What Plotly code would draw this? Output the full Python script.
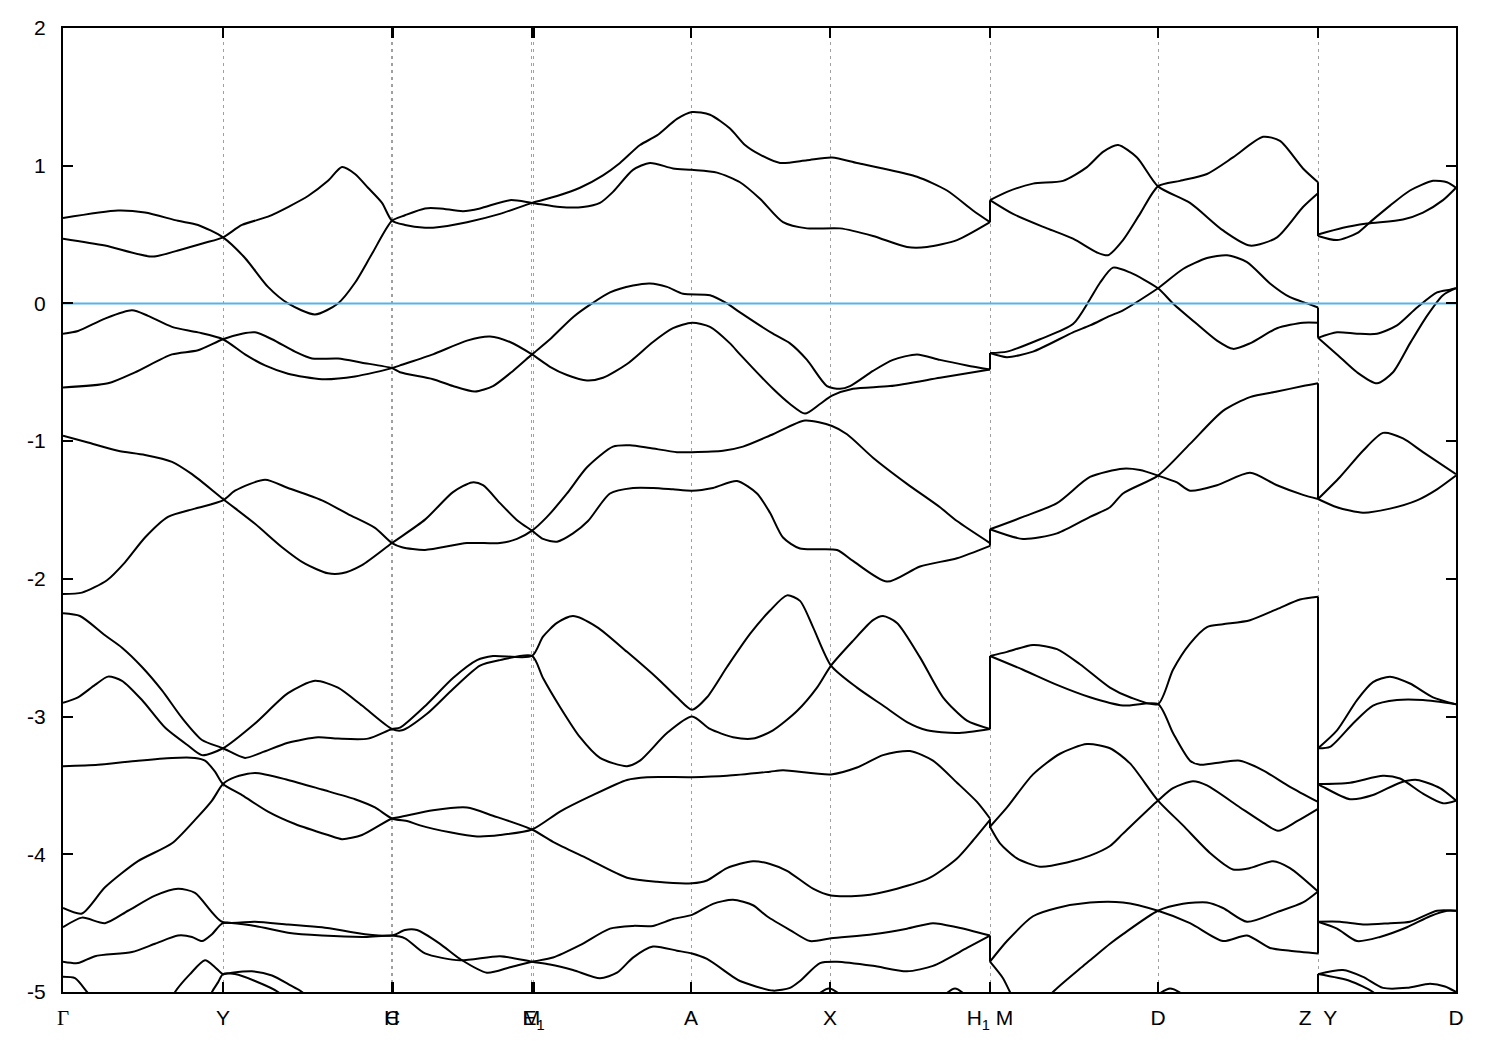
import plotly.graph_objects as go

# ---------------- k-path (arbitrary path-length units) ----------------
tick_k = [0, 160, 328.5, 329.5, 468.5, 470.5, 628, 767, 927, 1095, 1255, 1393]
tick_labels = ["<span style='font-family:Liberation Serif'>Γ</span>", "Y", "H", "C", "M",
               "E<sub>1</sub>", "A", "X", "H<sub>1</sub> M", "D", "Z\u00a0\u00a0Y", "D"]
y_ticks = [-5, -4, -3, -2, -1, 0, 1, 2]

# ---------------- band strands: (k, E [eV]) ----------------
# segment group 1 : Gamma -> H1
g1_a = [(0, 0.62), (55, 0.675), (82, 0.66), (115, 0.60), (135, 0.57), (160, 0.48), (182, 0.33), (205, 0.12),
        (225, 0.0), (252, -0.08), (275, 0.0), (292, 0.15), (309, 0.36), (329, 0.60), (342, 0.64), (362, 0.69),
        (377, 0.69), (400, 0.67), (417, 0.69), (447, 0.75), (469, 0.73), (497, 0.70), (520, 0.70), (537, 0.73),
        (550, 0.81), (570, 0.97), (587, 1.02), (610, 0.98), (629, 0.97), (654, 0.95), (677, 0.88), (697, 0.76),
        (720, 0.59), (744, 0.545), (777, 0.545), (810, 0.49), (844, 0.41), (864, 0.41), (894, 0.46), (927, 0.59)]
g1_b = [(0, 0.47), (42, 0.42), (89, 0.34), (115, 0.385), (142, 0.44), (160, 0.48), (179, 0.57), (205, 0.63),
        (225, 0.70), (245, 0.78), (265, 0.89), (279, 0.99), (292, 0.94), (305, 0.84), (319, 0.73), (329, 0.60),
        (342, 0.57), (362, 0.55), (370, 0.55), (404, 0.59), (437, 0.65), (469, 0.73), (494, 0.78), (517, 0.84),
        (540, 0.93), (557, 1.02), (577, 1.15), (594, 1.22), (614, 1.34), (629, 1.39), (647, 1.37), (667, 1.27),
        (682, 1.15), (697, 1.08), (717, 1.02), (744, 1.04), (769, 1.06), (794, 1.02), (820, 0.98), (854, 0.92),
        (884, 0.82), (910, 0.675), (927, 0.59)]
g1_c = [(0, -0.22), (15, -0.20), (42, -0.11), (69, -0.05), (85, -0.09), (109, -0.17), (135, -0.21), (160, -0.26),
        (182, -0.37), (202, -0.45), (225, -0.51), (259, -0.55), (292, -0.53), (329, -0.47), (337, -0.45),
        (370, -0.37), (404, -0.27), (427, -0.24), (447, -0.28), (469, -0.37), (487, -0.46), (504, -0.52),
        (524, -0.56), (540, -0.54), (564, -0.44), (590, -0.28), (610, -0.18), (629, -0.14), (647, -0.17),
        (667, -0.29), (677, -0.37), (710, -0.62), (727, -0.73), (742, -0.80), (757, -0.73), (769, -0.67),
        (790, -0.62), (827, -0.60), (877, -0.54), (927, -0.48)]
g1_d = [(0, -0.61), (45, -0.58), (72, -0.50), (109, -0.37), (135, -0.34), (160, -0.26), (179, -0.22),
        (192, -0.21), (209, -0.26), (232, -0.35), (249, -0.40), (275, -0.40), (299, -0.43), (329, -0.47),
        (337, -0.50), (370, -0.55), (390, -0.60), (412, -0.64), (430, -0.60), (450, -0.49), (469, -0.37),
        (487, -0.26), (510, -0.10), (529, 0.0), (547, 0.08), (570, 0.13), (587, 0.145), (604, 0.12), (620, 0.07),
        (647, 0.06), (664, 0.0), (677, -0.065), (710, -0.22), (727, -0.29), (744, -0.41), (764, -0.60),
        (777, -0.62), (787, -0.60), (810, -0.49), (830, -0.41), (854, -0.37), (877, -0.41), (904, -0.45),
        (927, -0.48)]
g1_e = [(0, -0.96), (25, -1.01), (55, -1.07), (82, -1.10), (109, -1.15), (129, -1.24), (160, -1.42),
        (192, -1.60), (219, -1.77), (242, -1.89), (265, -1.96), (279, -1.96), (299, -1.90), (329, -1.74),
        (362, -1.57), (390, -1.37), (409, -1.30), (420, -1.32), (437, -1.45), (455, -1.58), (469, -1.65),
        (480, -1.71), (494, -1.73), (510, -1.67), (525, -1.58), (547, -1.38), (570, -1.34), (590, -1.34),
        (610, -1.35), (629, -1.36), (650, -1.34), (674, -1.29), (694, -1.38), (707, -1.52), (720, -1.70),
        (737, -1.78), (774, -1.79), (790, -1.87), (824, -2.02), (857, -1.91), (894, -1.85), (927, -1.76)]
g1_f = [(0, -2.11), (19, -2.10), (44, -2.01), (62, -1.88), (82, -1.70), (105, -1.55), (132, -1.49),
        (160, -1.43), (172, -1.36), (202, -1.28), (225, -1.34), (259, -1.43), (285, -1.53), (312, -1.63),
        (329, -1.74), (339, -1.77), (362, -1.79), (404, -1.74), (437, -1.74), (454, -1.71), (469, -1.65),
        (484, -1.55), (504, -1.38), (524, -1.19), (550, -1.04), (567, -1.03), (587, -1.05), (614, -1.08),
        (629, -1.08), (660, -1.07), (680, -1.04), (710, -0.95), (742, -0.85), (769, -0.89), (784, -0.95),
        (810, -1.12), (844, -1.31), (877, -1.48), (894, -1.58), (927, -1.74)]
g1_g = [(0, -2.25), (17, -2.27), (42, -2.41), (59, -2.50), (79, -2.64), (99, -2.81), (119, -3.01),
        (139, -3.17), (160, -3.23), (182, -3.30), (199, -3.26), (225, -3.19), (255, -3.15), (275, -3.16),
        (305, -3.16), (329, -3.09), (337, -3.08), (364, -2.91), (390, -2.72), (414, -2.59), (430, -2.56),
        (469, -2.56), (480, -2.42), (494, -2.32), (510, -2.27), (534, -2.35), (564, -2.53), (594, -2.72),
        (614, -2.86), (629, -2.95), (644, -2.86), (664, -2.64), (687, -2.40), (707, -2.23), (724, -2.12),
        (737, -2.16), (750, -2.35), (768, -2.63), (794, -2.79), (820, -2.92), (844, -3.04), (864, -3.10),
        (894, -3.12), (927, -3.09)]
g1_h = [(0, -2.90), (15, -2.86), (32, -2.77), (45, -2.71), (59, -2.74), (79, -2.88), (102, -3.08),
        (125, -3.21), (139, -3.28), (160, -3.23), (192, -3.05), (225, -2.83), (252, -2.74), (275, -2.79),
        (299, -2.92), (329, -3.09), (339, -3.10), (364, -2.98), (390, -2.80), (417, -2.63), (437, -2.59),
        (469, -2.56), (480, -2.72), (497, -2.93), (517, -3.15), (537, -3.30), (564, -3.36), (577, -3.32),
        (604, -3.12), (629, -3.00), (647, -3.09), (670, -3.15), (690, -3.16), (710, -3.10), (734, -2.96),
        (754, -2.79), (768, -2.63), (790, -2.45), (810, -2.30), (820, -2.27), (834, -2.32), (857, -2.57),
        (880, -2.86), (904, -3.03), (927, -3.09)]
g1_i = [(0, -3.36), (35, -3.35), (75, -3.32), (109, -3.30), (132, -3.30), (142, -3.32), (152, -3.40),
        (160, -3.49), (179, -3.57), (205, -3.69), (232, -3.78), (265, -3.86), (279, -3.89), (299, -3.86),
        (329, -3.74), (337, -3.73), (370, -3.68), (404, -3.66), (430, -3.72), (469, -3.82), (490, -3.91),
        (524, -4.03), (564, -4.17), (594, -4.20), (629, -4.21), (644, -4.19), (664, -4.10), (690, -4.05),
        (707, -4.07), (724, -4.12), (750, -4.25), (768, -4.30), (800, -4.30), (834, -4.25), (867, -4.17),
        (894, -4.03), (910, -3.90), (927, -3.75)]
g1_j = [(0, -4.39), (19, -4.43), (42, -4.24), (75, -4.05), (109, -3.92), (132, -3.75), (149, -3.61),
        (160, -3.49), (172, -3.44), (192, -3.41), (225, -3.46), (259, -3.53), (292, -3.60), (312, -3.66),
        (329, -3.74), (345, -3.76), (357, -3.79), (387, -3.84), (414, -3.87), (437, -3.86), (469, -3.82),
        (497, -3.69), (527, -3.58), (564, -3.46), (584, -3.44), (629, -3.44), (664, -3.43), (707, -3.40),
        (720, -3.39), (768, -3.42), (794, -3.37), (820, -3.28), (847, -3.25), (870, -3.32), (894, -3.48),
        (914, -3.62), (927, -3.74)]
g1_k = [(0, -4.53), (19, -4.46), (42, -4.50), (65, -4.41), (92, -4.30), (115, -4.25), (132, -4.28),
        (159, -4.49), (192, -4.49), (225, -4.51), (259, -4.53), (302, -4.58), (329, -4.59), (342, -4.55),
        (354, -4.55), (377, -4.65), (397, -4.76), (424, -4.86), (447, -4.82), (469, -4.78), (490, -4.75),
        (517, -4.66), (547, -4.54), (570, -4.52), (590, -4.52), (610, -4.47), (629, -4.44), (650, -4.36),
        (670, -4.33), (690, -4.37), (704, -4.45), (727, -4.55), (747, -4.63), (768, -4.61), (810, -4.58),
        (844, -4.54), (870, -4.50), (894, -4.53), (927, -4.59)]
g1_l = [(0, -4.78), (15, -4.79), (32, -4.74), (69, -4.71), (92, -4.65), (115, -4.59), (129, -4.60),
        (139, -4.63), (149, -4.58), (160, -4.50), (192, -4.52), (225, -4.57), (259, -4.59), (302, -4.60),
        (329, -4.59), (342, -4.61), (362, -4.72), (397, -4.77), (437, -4.74), (469, -4.78), (487, -4.80),
        (510, -4.84), (537, -4.90), (554, -4.86), (570, -4.75), (590, -4.67), (614, -4.70), (629, -4.72),
        (644, -4.76), (670, -4.89), (677, -4.92), (710, -4.99), (727, -4.97), (737, -4.92), (757, -4.79),
        (774, -4.78), (810, -4.81), (844, -4.85), (870, -4.81), (904, -4.68), (927, -4.59)]
g1_m = [(0, -4.89), (12, -4.90), (24, -5.0), (37, -5.12)]
g1_n = [(105, -5.1), (112, -5.0), (127, -4.87), (142, -4.77), (152, -4.82), (160, -4.87), (169, -4.86),
        (189, -4.85), (209, -4.88), (227, -4.95), (239, -5.0), (249, -5.08)]
g1_o = [(144, -5.1), (149, -5.0), (155, -4.93), (160, -4.87), (172, -4.87), (192, -4.92), (215, -5.0),
        (225, -5.08)]
g1_p = [(749, -5.05), (766, -4.975), (783, -5.05)]
g1_q = [(877, -5.05), (892, -4.975), (907, -5.05)]

# segment group 2 : M -> Z
g2_a = [(927, 0.75), (944, 0.81), (970, 0.87), (1000, 0.89), (1024, 0.99), (1040, 1.10), (1055, 1.15),
        (1074, 1.06), (1095, 0.85), (1127, 0.73), (1160, 0.53), (1187, 0.42), (1214, 0.48), (1240, 0.70),
        (1255, 0.80)]
g2_b = [(927, 0.75), (950, 0.65), (984, 0.545), (1010, 0.47), (1034, 0.37), (1045, 0.35), (1060, 0.46),
        (1077, 0.65), (1095, 0.85), (1117, 0.89), (1144, 0.94), (1170, 1.06), (1200, 1.21), (1217, 1.18),
        (1240, 0.98), (1255, 0.88)]
g2_c = [(927, -0.36), (944, -0.35), (977, -0.26), (1010, -0.15), (1027, 0.03), (1037, 0.15), (1050, 0.26),
        (1067, 0.225), (1095, 0.11), (1110, 0.0), (1134, -0.15), (1154, -0.27), (1170, -0.33), (1187, -0.29),
        (1214, -0.18), (1240, -0.14), (1255, -0.14)]
g2_d = [(927, -0.36), (944, -0.39), (970, -0.35), (1010, -0.21), (1027, -0.16), (1047, -0.09), (1060, -0.05),
        (1095, 0.11), (1120, 0.25), (1144, 0.33), (1164, 0.35), (1184, 0.30), (1207, 0.145), (1227, 0.045),
        (1244, 0.0), (1255, -0.03)]
g2_e = [(927, -1.64), (960, -1.55), (994, -1.45), (1027, -1.26), (1060, -1.20), (1077, -1.21), (1095, -1.25),
        (1114, -1.30), (1127, -1.36), (1154, -1.32), (1187, -1.23), (1214, -1.32), (1240, -1.39), (1255, -1.42)]
g2_f = [(927, -1.64), (960, -1.71), (994, -1.67), (1027, -1.55), (1047, -1.48), (1060, -1.38), (1095, -1.25),
        (1127, -1.02), (1160, -0.78), (1187, -0.68), (1214, -0.64), (1240, -0.60), (1255, -0.58)]
g2_g = [(927, -2.56), (944, -2.53), (970, -2.48), (994, -2.51), (1017, -2.62), (1047, -2.79), (1067, -2.86),
        (1095, -2.91), (1110, -2.66), (1127, -2.47), (1144, -2.35), (1160, -2.33), (1187, -2.30), (1214, -2.22),
        (1237, -2.15), (1255, -2.13)]
g2_h = [(927, -2.56), (960, -2.66), (994, -2.77), (1027, -2.86), (1060, -2.92), (1095, -2.91), (1110, -3.12),
        (1127, -3.32), (1137, -3.35), (1160, -3.33), (1177, -3.32), (1200, -3.39), (1227, -3.51), (1255, -3.62)]
g2_i = [(927, -3.80), (944, -3.66), (970, -3.42), (997, -3.27), (1024, -3.20), (1047, -3.23), (1067, -3.34),
        (1095, -3.61), (1120, -3.79), (1147, -3.99), (1170, -4.11), (1187, -4.10), (1210, -4.05), (1227, -4.10),
        (1255, -4.27)]
g2_j = [(927, -3.80), (937, -3.92), (954, -4.03), (977, -4.09), (1004, -4.06), (1027, -4.01), (1047, -3.94),
        (1060, -3.85), (1095, -3.61), (1110, -3.52), (1130, -3.47), (1144, -3.50), (1177, -3.66), (1200, -3.77),
        (1215, -3.83), (1234, -3.76), (1255, -3.67)]
g2_k = [(927, -4.78), (944, -4.63), (970, -4.45), (994, -4.39), (1027, -4.35), (1060, -4.35), (1095, -4.41),
        (1127, -4.50), (1160, -4.63), (1184, -4.59), (1207, -4.68), (1227, -4.70), (1255, -4.72)]
g2_l = [(927, -4.78), (940, -4.90), (947, -5.0), (957, -5.12)]
g2_m = [(977, -5.12), (990, -5.0), (1017, -4.83), (1027, -4.77), (1047, -4.65), (1060, -4.58), (1095, -4.41),
        (1120, -4.36), (1144, -4.35), (1160, -4.39), (1184, -4.49), (1214, -4.42), (1240, -4.35), (1255, -4.27)]
g2_n = [(1089, -5.05), (1107, -4.975), (1127, -5.05)]

# segment group 3 : Y -> D
g3_a = [(1255, 0.49), (1274, 0.46), (1294, 0.51), (1307, 0.59), (1327, 0.71), (1347, 0.82), (1370, 0.89),
        (1384, 0.88), (1393, 0.84)]
g3_b = [(1255, 0.50), (1280, 0.55), (1304, 0.58), (1340, 0.61), (1360, 0.66), (1380, 0.75), (1393, 0.84)]
g3_c = [(1255, -0.25), (1274, -0.21), (1294, -0.22), (1314, -0.22), (1334, -0.16), (1354, -0.03), (1374, 0.08),
        (1387, 0.10), (1393, 0.11)]
g3_d = [(1255, -0.25), (1274, -0.37), (1294, -0.50), (1314, -0.58), (1330, -0.50), (1347, -0.29), (1364, -0.09),
        (1380, 0.06), (1393, 0.11)]
g3_e = [(1255, -1.42), (1277, -1.26), (1300, -1.07), (1320, -0.94), (1340, -0.98), (1360, -1.08), (1393, -1.24)]
g3_f = [(1255, -1.42), (1274, -1.48), (1300, -1.52), (1327, -1.49), (1354, -1.43), (1374, -1.35), (1393, -1.25)]
g3_g = [(1255, -3.23), (1274, -3.10), (1294, -2.88), (1310, -2.75), (1327, -2.71), (1347, -2.76), (1370, -2.86),
        (1393, -2.91)]
g3_h = [(1255, -3.23), (1267, -3.22), (1290, -3.05), (1310, -2.92), (1334, -2.88), (1360, -2.88), (1393, -2.91)]
g3_i = [(1255, -3.49), (1287, -3.48), (1320, -3.43), (1337, -3.45), (1360, -3.56), (1380, -3.63), (1393, -3.61)]
g3_j = [(1255, -3.49), (1260, -3.51), (1287, -3.60), (1310, -3.57), (1337, -3.48), (1354, -3.46), (1377, -3.52),
        (1393, -3.61)]
g3_k = [(1255, -4.49), (1277, -4.49), (1300, -4.51), (1327, -4.50), (1347, -4.49), (1374, -4.41), (1393, -4.41)]
g3_l = [(1255, -4.49), (1274, -4.54), (1294, -4.63), (1317, -4.60), (1344, -4.53), (1367, -4.45), (1384, -4.41),
        (1393, -4.41)]
g3_m = [(1255, -4.87), (1280, -4.84), (1300, -4.89), (1320, -4.97), (1344, -4.97), (1367, -4.94), (1382, -4.96),
        (1393, -5.0)]
g3_n = [(1255, -4.87), (1287, -4.92), (1310, -5.0), (1322, -5.08)]

strands = [g1_a, g1_b, g1_c, g1_d, g1_e, g1_f, g1_g, g1_h, g1_i, g1_j, g1_k, g1_l, g1_m, g1_n, g1_o, g1_p, g1_q,
           g2_a, g2_b, g2_c, g2_d, g2_e, g2_f, g2_g, g2_h, g2_i, g2_j, g2_k, g2_l, g2_m, g2_n,
           g3_a, g3_b, g3_c, g3_d, g3_e, g3_f, g3_g, g3_h, g3_i, g3_j, g3_k, g3_l, g3_m, g3_n]

# vertical band jumps at the path discontinuities (H1|M and Z|Y)
jump_h1m_k = 927
jump_h1m_top = [0.75, -0.36, -1.64, -2.56, -3.74, -4.59]
jump_h1m_bot = [0.59, -0.48, -1.76, -3.09, -3.81, -4.78]
jump_zy_k = 1255
jump_zy_top = [0.88, -0.03, -0.58, -2.13, -4.87]
jump_zy_bot = [0.49, -0.25, -1.42, -4.72, -5.2]

fermi_level = 0.0

FONT = "Liberation Sans, Arial, Helvetica, sans-serif"
fig = go.Figure()

for s in strands:
    ks = [p[0] for p in s]
    es = [p[1] for p in s]
    fig.add_trace(go.Scatter(x=ks, y=es, mode="lines", hoverinfo="skip",
                             line=dict(color="black", width=2, shape="spline", smoothing=0.7)))

for kj, tops, bots in [(jump_h1m_k, jump_h1m_top, jump_h1m_bot), (jump_zy_k, jump_zy_top, jump_zy_bot)]:
    xs, ys = [], []
    for t, b in zip(tops, bots):
        xs += [kj, kj, None]
        ys += [t, b, None]
    fig.add_trace(go.Scatter(x=xs, y=ys, mode="lines", hoverinfo="skip",
                             line=dict(color="black", width=2)))

fig.add_trace(go.Scatter(x=[tick_k[0], tick_k[-1]], y=[fermi_level, fermi_level], mode="lines",
                         hoverinfo="skip", line=dict(color="#56B4E9", width=2)))

# the page body has an 8px default margin, so the figure is sized to fit the 1500x1050 window
fig.update_layout(
    width=1492, height=1042,
    margin=dict(l=55, r=44, t=20, b=58, autoexpand=False),
    paper_bgcolor="white", plot_bgcolor="white",
    showlegend=False,
    font=dict(family=FONT, size=21, color="black"),
)
fig.update_xaxes(
    range=[tick_k[0], tick_k[-1]], tickmode="array", tickvals=tick_k, ticktext=tick_labels,
    tickangle=0, automargin=False,
    ticks="inside", ticklen=10, tickwidth=1.5, tickcolor="black",
    showline=True, linecolor="black", linewidth=2, mirror="ticks",
    showgrid=True, gridcolor="#a0a0a0", gridwidth=1, griddash="3px,4px",
    zeroline=False, ticklabelstandoff=6, tickfont=dict(family=FONT, size=21, color="black"),
)
fig.update_yaxes(
    range=[-5, 2], tickmode="array", tickvals=y_ticks, ticktext=[str(v) for v in y_ticks],
    automargin=False,
    ticks="inside", ticklen=10, tickwidth=1.5, tickcolor="black",
    showline=True, linecolor="black", linewidth=2, mirror="ticks",
    showgrid=False, zeroline=False, ticklabelstandoff=11,
    tickfont=dict(family=FONT, size=21, color="black"),
)

fig.write_html("out.html")
